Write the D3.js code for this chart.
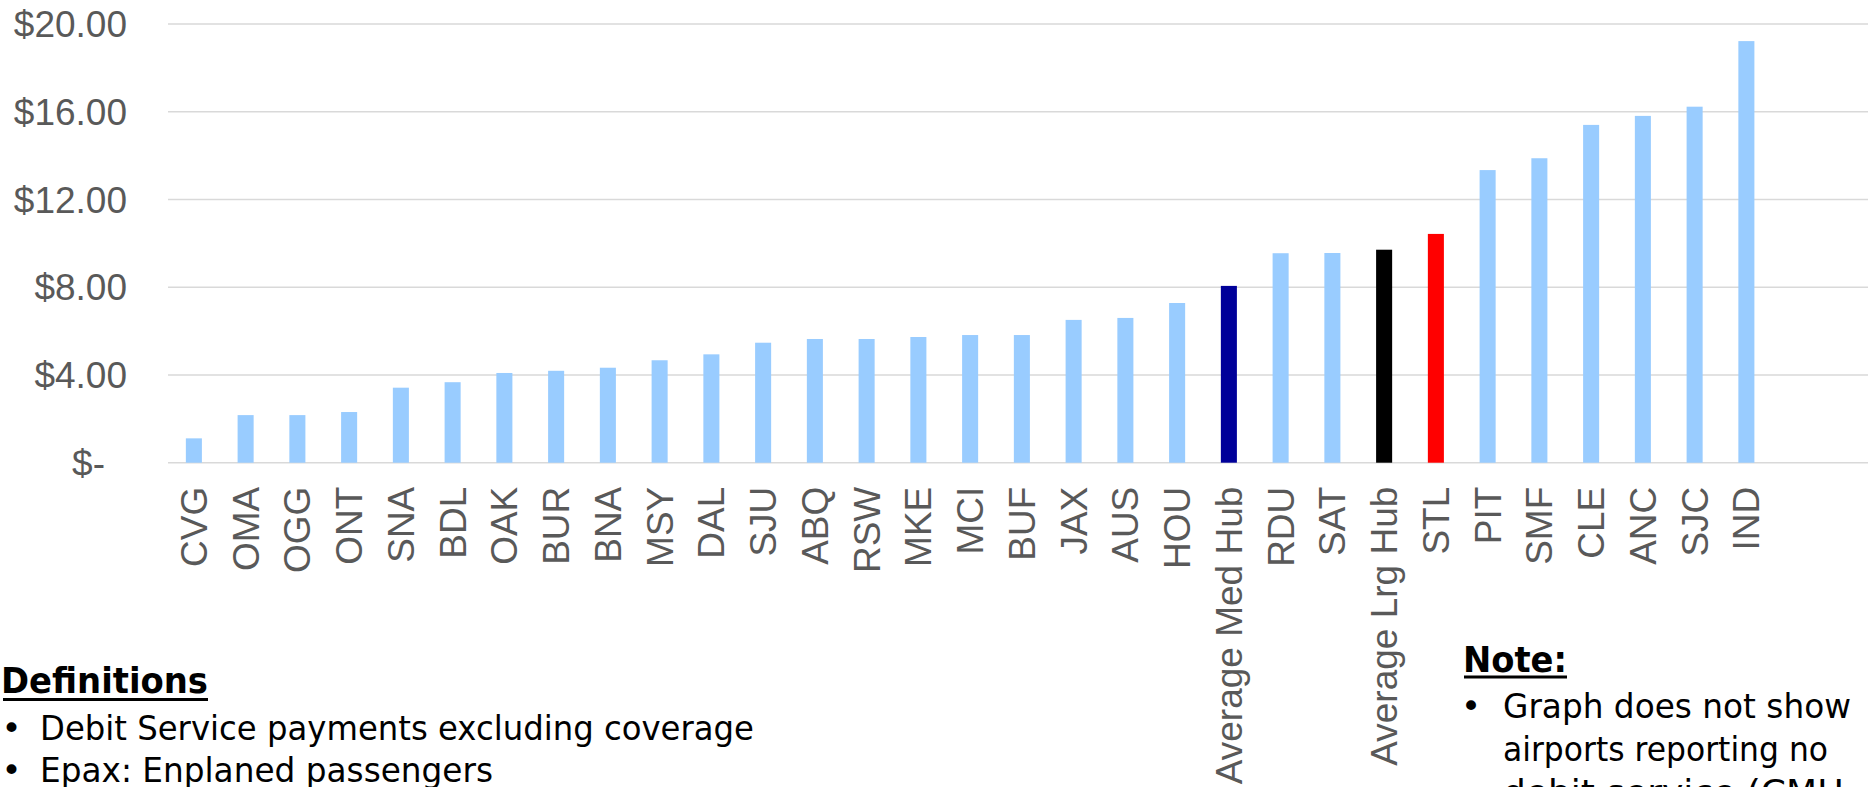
<!DOCTYPE html>
<html>
<head>
<meta charset="utf-8">
<script src="https://cdn.jsdelivr.net/npm/d3@7"></script>
<style>
  html, body { margin: 0; padding: 0; background: #ffffff; }
  svg { display: block; }
</style>
</head>
<body>
<svg id="chart" width="1868" height="787"></svg>
<script>
// Debt service per enplaned passenger, by airport (sorted ascending)
const airports = ["CVG", "OMA", "OGG", "ONT", "SNA", "BDL", "OAK", "BUR", "BNA", "MSY",
  "DAL", "SJU", "ABQ", "RSW", "MKE", "MCI", "BUF", "JAX", "AUS", "HOU",
  "Average Med Hub", "RDU", "SAT", "Average Lrg Hub", "STL", "PIT", "SMF", "CLE", "ANC", "SJC", "IND"];
const costPerEpax = [1.11, 2.17, 2.17, 2.31, 3.42, 3.67, 4.09, 4.19, 4.33, 4.67,
  4.94, 5.47, 5.64, 5.64, 5.73, 5.82, 5.82, 6.51, 6.60, 7.28,
  8.06, 9.55, 9.56, 9.71, 10.43, 13.34, 13.88, 15.40, 15.81, 16.23, 19.22];
const yTicks = [0, 4, 8, 12, 16, 20];
const highlightColors = { "Average Med Hub": "#000099", "Average Lrg Hub": "#000000", "STL": "#ff0000" };
const definitionsTitle = "Definitions";
const definitionsLines = ["Debit Service payments excluding coverage", "Epax: Enplaned passengers"];
const noteTitle = "Note:";
const noteLines = ["Graph does not show", "airports reporting no", "debit service (CMH"];

const svg = d3.select("#chart");
const W = 1868;
const plotLeft = 168, step = 51.75;
const axisFont = "'Liberation Sans', Arial, sans-serif";
const noteFont = "'DejaVu Sans', Verdana, sans-serif";

const x = d3.scaleBand()
  .domain(airports)
  .range([plotLeft, plotLeft + step * airports.length])
  .paddingInner(0.69)
  .paddingOuter(0.345);

const y = d3.scaleLinear().domain([0, 20]).range([462.7, 24.0]);

svg.append("rect").attr("width", W).attr("height", 787).attr("fill", "#ffffff");

// horizontal gridlines (the $0 line doubles as the category axis)
svg.append("g").selectAll("line")
  .data(yTicks)
  .join("line")
  .attr("x1", plotLeft).attr("x2", W)
  .attr("y1", d => y(d)).attr("y2", d => y(d))
  .attr("stroke", "#d9d9d9")
  .attr("stroke-width", 1.4);

// value axis labels in accounting style
const yAxis = d3.axisLeft(y)
  .tickValues(yTicks)
  .tickSize(0)
  .tickFormat(d => d === 0 ? "$-" : "$" + d3.format(".2f")(d));
const yg = svg.append("g").attr("transform", "translate(0,0)").call(yAxis);
yg.select(".domain").remove();
yg.selectAll("text")
  .attr("x", d => d === 0 ? 105 : 127)
  .attr("dy", "0.34em")
  .attr("fill", "#595959")
  .style("font-family", axisFont)
  .style("font-size", "37px");

// bars
svg.append("g").selectAll("rect")
  .data(airports.map((a, i) => ({ a, v: costPerEpax[i] })))
  .join("rect")
  .attr("x", d => x(d.a))
  .attr("width", x.bandwidth())
  .attr("y", d => y(d.v))
  .attr("height", d => y(0) - y(d.v))
  .attr("fill", d => highlightColors[d.a] || "#99ccff");

// rotated category labels
const xAxis = d3.axisBottom(x).tickSize(0);
const xg = svg.append("g").attr("transform", `translate(0,${y(0)})`).call(xAxis);
xg.select(".domain").remove();
xg.selectAll("text")
  .attr("transform", "rotate(-90)")
  .attr("x", -24)
  .attr("y", 0)
  .attr("dy", "0.35em")
  .attr("text-anchor", "end")
  .attr("fill", "#595959")
  .style("font-family", axisFont)
  .style("font-size", "37px");

// Definitions block
const defs = svg.append("g").style("font-family", noteFont).attr("fill", "#000000");
defs.append("text")
  .attr("x", 1).attr("y", 693)
  .attr("font-weight", "bold").attr("font-size", 35)
  .attr("textLength", 207).attr("lengthAdjust", "spacingAndGlyphs")
  .text(definitionsTitle);
defs.append("rect").attr("x", 3).attr("y", 698).attr("width", 205).attr("height", 3);
const defLens = [714, 453];
definitionsLines.forEach((t, i) => {
  const by = 740 + i * 42;
  defs.append("text").attr("x", 11.5).attr("y", by).attr("text-anchor", "middle")
    .attr("font-size", 34).text("•");
  defs.append("text").attr("x", 40).attr("y", by).attr("font-size", 34)
    .attr("textLength", defLens[i]).attr("lengthAdjust", "spacingAndGlyphs")
    .text(t);
});

// Note block
const note = svg.append("g").style("font-family", noteFont).attr("fill", "#000000");
note.append("text")
  .attr("x", 1463).attr("y", 672)
  .attr("font-weight", "bold").attr("font-size", 35)
  .attr("textLength", 104).attr("lengthAdjust", "spacingAndGlyphs")
  .text(noteTitle);
note.append("rect").attr("x", 1464).attr("y", 675.5).attr("width", 103).attr("height", 3);
note.append("text").attr("x", 1471).attr("y", 718).attr("text-anchor", "middle")
  .attr("font-size", 34).text("•");
const noteLens = [348, 325, 341];
noteLines.forEach((t, i) => {
  note.append("text").attr("x", 1503).attr("y", 718 + i * 43).attr("font-size", 34)
    .attr("textLength", noteLens[i]).attr("lengthAdjust", "spacingAndGlyphs")
    .text(t);
});
</script>
</body>
</html>
